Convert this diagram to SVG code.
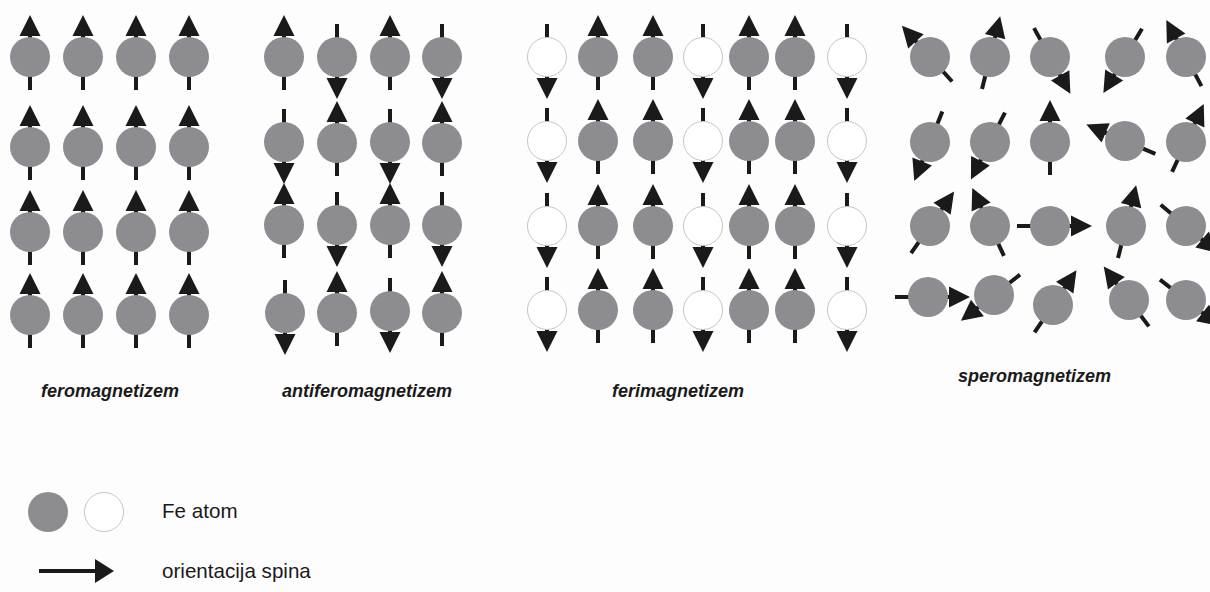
<svg xmlns="http://www.w3.org/2000/svg" xmlns:xlink="http://www.w3.org/1999/xlink" width="1210" height="592" viewBox="0 0 1210 592">
<style>
.lbl{font-family:"Liberation Sans",Arial,sans-serif;font-size:18px;font-weight:bold;font-style:italic;fill:#1a1a1a}
.leg{font-family:"Liberation Sans",Arial,sans-serif;font-size:20.6px;fill:#1a1a1a}
</style>
<defs>
<g id="spin"><line x1="0" y1="33" x2="0" y2="-24" stroke="#1a1a1a" stroke-width="4"/><polygon points="0,-42 -10.5,-21 10.5,-21" fill="#1a1a1a"/></g>
<circle id="g" r="20" fill="#8d8d91"/>
<circle id="w" r="19.5" fill="#ffffff" stroke="#c6c6c6" stroke-width="1"/>
</defs>
<rect width="1210" height="592" fill="#fdfdfd"/>

<g id="feromagnetizem">
<g id="f11" transform="translate(30,57)"><use href="#spin"/><use href="#g"/></g>
<g id="f12" transform="translate(83,57)"><use href="#spin"/><use href="#g"/></g>
<g id="f13" transform="translate(136,57)"><use href="#spin"/><use href="#g"/></g>
<g id="f14" transform="translate(189,57)"><use href="#spin"/><use href="#g"/></g>
<g id="f21" transform="translate(30,147)"><use href="#spin"/><use href="#g"/></g>
<g id="f22" transform="translate(83,147)"><use href="#spin"/><use href="#g"/></g>
<g id="f23" transform="translate(136,147)"><use href="#spin"/><use href="#g"/></g>
<g id="f24" transform="translate(189,147)"><use href="#spin"/><use href="#g"/></g>
<g id="f31" transform="translate(30,232)"><use href="#spin"/><use href="#g"/></g>
<g id="f32" transform="translate(83,232)"><use href="#spin"/><use href="#g"/></g>
<g id="f33" transform="translate(136,232)"><use href="#spin"/><use href="#g"/></g>
<g id="f34" transform="translate(189,232)"><use href="#spin"/><use href="#g"/></g>
<g id="f41" transform="translate(30,315)"><use href="#spin"/><use href="#g"/></g>
<g id="f42" transform="translate(83,315)"><use href="#spin"/><use href="#g"/></g>
<g id="f43" transform="translate(136,315)"><use href="#spin"/><use href="#g"/></g>
<g id="f44" transform="translate(189,315)"><use href="#spin"/><use href="#g"/></g>
</g>

<g id="antiferomagnetizem">
<g id="a11" transform="translate(284,57)"><use href="#spin"/><use href="#g"/></g>
<g id="a12" transform="translate(337,57)"><use href="#spin" transform="rotate(180)"/><use href="#g"/></g>
<g id="a13" transform="translate(390,57)"><use href="#spin"/><use href="#g"/></g>
<g id="a14" transform="translate(442,57)"><use href="#spin" transform="rotate(180)"/><use href="#g"/></g>
<g id="a21" transform="translate(284,142)"><use href="#spin" transform="rotate(180)"/><use href="#g"/></g>
<g id="a22" transform="translate(337,143)"><use href="#spin"/><use href="#g"/></g>
<g id="a23" transform="translate(390,142)"><use href="#spin" transform="rotate(180)"/><use href="#g"/></g>
<g id="a24" transform="translate(442,143)"><use href="#spin"/><use href="#g"/></g>
<g id="a31" transform="translate(284,225)"><use href="#spin"/><use href="#g"/></g>
<g id="a32" transform="translate(337,225)"><use href="#spin" transform="rotate(180)"/><use href="#g"/></g>
<g id="a33" transform="translate(390,225)"><use href="#spin"/><use href="#g"/></g>
<g id="a34" transform="translate(442,225)"><use href="#spin" transform="rotate(180)"/><use href="#g"/></g>
<g id="a41" transform="translate(285,313)"><use href="#spin" transform="rotate(180)"/><use href="#g"/></g>
<g id="a42" transform="translate(337,313)"><use href="#spin"/><use href="#g"/></g>
<g id="a43" transform="translate(390,311)"><use href="#spin" transform="rotate(180)"/><use href="#g"/></g>
<g id="a44" transform="translate(442,313)"><use href="#spin"/><use href="#g"/></g>
</g>

<g id="ferimagnetizem">
<g id="r11" transform="translate(547,57)"><use href="#spin" transform="rotate(180)"/><use href="#w"/></g>
<g id="r12" transform="translate(598,57)"><use href="#spin"/><use href="#g"/></g>
<g id="r13" transform="translate(653,57)"><use href="#spin"/><use href="#g"/></g>
<g id="r14" transform="translate(703,57)"><use href="#spin" transform="rotate(180)"/><use href="#w"/></g>
<g id="r15" transform="translate(749,57)"><use href="#spin"/><use href="#g"/></g>
<g id="r16" transform="translate(795,57)"><use href="#spin"/><use href="#g"/></g>
<g id="r17" transform="translate(847,57)"><use href="#spin" transform="rotate(180)"/><use href="#w"/></g>
<g id="r21" transform="translate(547,141)"><use href="#spin" transform="rotate(180)"/><use href="#w"/></g>
<g id="r22" transform="translate(598,141)"><use href="#spin"/><use href="#g"/></g>
<g id="r23" transform="translate(653,141)"><use href="#spin"/><use href="#g"/></g>
<g id="r24" transform="translate(703,141)"><use href="#spin" transform="rotate(180)"/><use href="#w"/></g>
<g id="r25" transform="translate(749,141)"><use href="#spin"/><use href="#g"/></g>
<g id="r26" transform="translate(795,141)"><use href="#spin"/><use href="#g"/></g>
<g id="r27" transform="translate(847,141)"><use href="#spin" transform="rotate(180)"/><use href="#w"/></g>
<g id="r31" transform="translate(547,226)"><use href="#spin" transform="rotate(180)"/><use href="#w"/></g>
<g id="r32" transform="translate(598,226)"><use href="#spin"/><use href="#g"/></g>
<g id="r33" transform="translate(653,226)"><use href="#spin"/><use href="#g"/></g>
<g id="r34" transform="translate(703,226)"><use href="#spin" transform="rotate(180)"/><use href="#w"/></g>
<g id="r35" transform="translate(749,226)"><use href="#spin"/><use href="#g"/></g>
<g id="r36" transform="translate(795,226)"><use href="#spin"/><use href="#g"/></g>
<g id="r37" transform="translate(847,226)"><use href="#spin" transform="rotate(180)"/><use href="#w"/></g>
<g id="r41" transform="translate(547,310)"><use href="#spin" transform="rotate(180)"/><use href="#w"/></g>
<g id="r42" transform="translate(598,310)"><use href="#spin"/><use href="#g"/></g>
<g id="r43" transform="translate(653,310)"><use href="#spin"/><use href="#g"/></g>
<g id="r44" transform="translate(703,310)"><use href="#spin" transform="rotate(180)"/><use href="#w"/></g>
<g id="r45" transform="translate(749,310)"><use href="#spin"/><use href="#g"/></g>
<g id="r46" transform="translate(795,310)"><use href="#spin"/><use href="#g"/></g>
<g id="r47" transform="translate(847,310)"><use href="#spin" transform="rotate(180)"/><use href="#w"/></g>
</g>

<g id="speromagnetizem">
<g id="s11" transform="translate(930,57)"><use href="#spin" transform="rotate(-42)"/><use href="#g"/></g>
<g id="s12" transform="translate(990,57)"><use href="#spin" transform="rotate(14)"/><use href="#g"/></g>
<g id="s13" transform="translate(1050,57)"><use href="#spin" transform="rotate(151)"/><use href="#g"/></g>
<g id="s14" transform="translate(1125,57)"><use href="#spin" transform="rotate(-149)"/><use href="#g"/></g>
<g id="s15" transform="translate(1186,57)"><use href="#spin" transform="rotate(-28)"/><use href="#g"/></g>
<g id="s21" transform="translate(930,142)"><use href="#spin" transform="rotate(-158)"/><use href="#g"/></g>
<g id="s22" transform="translate(990,142)"><use href="#spin" transform="rotate(-153)"/><use href="#g"/></g>
<g id="s23" transform="translate(1050,142)"><use href="#spin"/><use href="#g"/></g>
<g id="s24" transform="translate(1125,141)"><use href="#spin" transform="rotate(-67)"/><use href="#g"/></g>
<g id="s25" transform="translate(1186,142)"><use href="#spin" transform="rotate(25)"/><use href="#g"/></g>
<g id="s31" transform="translate(930,226)"><use href="#spin" transform="rotate(35)"/><use href="#g"/></g>
<g id="s32" transform="translate(990,226)"><use href="#spin" transform="rotate(-25)"/><use href="#g"/></g>
<g id="s33" transform="translate(1050,226)"><use href="#spin" transform="rotate(90)"/><use href="#g"/></g>
<g id="s34" transform="translate(1126,226)"><use href="#spin" transform="rotate(14)"/><use href="#g"/></g>
<g id="s35" transform="translate(1186,226)"><use href="#spin" transform="rotate(130)"/><use href="#g"/></g>
<g id="s41" transform="translate(928,297)"><use href="#spin" transform="rotate(90)"/><use href="#g"/></g>
<g id="s42" transform="translate(994,295)"><use href="#spin" transform="rotate(-128)"/><use href="#g"/></g>
<g id="s43" transform="translate(1053,305)"><use href="#spin" transform="rotate(34)"/><use href="#g"/></g>
<g id="s44" transform="translate(1129,300)"><use href="#spin" transform="rotate(-37)"/><use href="#g"/></g>
<g id="s45" transform="translate(1186,300)"><use href="#spin" transform="rotate(128)"/><use href="#g"/></g>
</g>

<g id="labels">
<text class="lbl" x="41" y="397">feromagnetizem</text>
<text class="lbl" x="282" y="397">antiferomagnetizem</text>
<text class="lbl" x="612" y="397">ferimagnetizem</text>
<text class="lbl" x="958" y="382">speromagnetizem</text>
</g>

<g id="legend">
<g id="leg-atoms">
<use href="#g" x="48" y="512"/>
<use href="#w" x="104" y="512"/>
<text class="leg" x="162" y="518">Fe atom</text>
</g>
<g id="leg-spin">
<line x1="39" y1="571" x2="97" y2="571" stroke="#1a1a1a" stroke-width="4"/>
<polygon points="114,571 95,559 95,583" fill="#1a1a1a"/>
<text class="leg" x="162" y="578">orientacija spina</text>
</g>
</g>
</svg>
